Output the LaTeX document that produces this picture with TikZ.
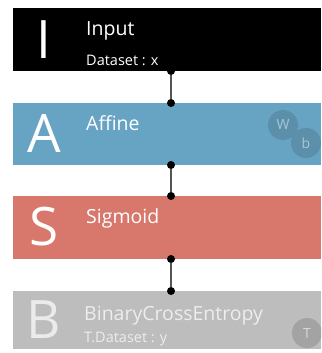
\documentclass[tikz,border=0pt]{standalone}
\usepackage{fontspec}
\setmainfont{Open Sans}
\definecolor{cblue}{HTML}{67A3C3}
\definecolor{csalmon}{HTML}{D8776B}
\definecolor{cgray}{HTML}{BDBDBD}
\definecolor{cbluec}{HTML}{5C8FAA}
\definecolor{cbluet}{HTML}{A6C7D8}
\definecolor{cgrayc}{HTML}{A3A3A3}
\definecolor{cgrayt}{HTML}{D6D6D6}
\definecolor{cline}{HTML}{555555}
\tikzset{
  layerbox/.style={rectangle, inner sep=0pt, anchor=north west, minimum width=308pt},
  bigletter/.style={font=\fontsize{53}{53}\selectfont, inner sep=0pt, anchor=center},
  titletext/.style={font=\fontsize{19.5}{20}\selectfont, inner sep=0pt, anchor=base west},
  subtext/.style={font=\fontsize{14.5}{15}\selectfont, inner sep=0pt, anchor=base west},
  param/.style={circle, inner sep=0pt, minimum size=30pt, font=\fontsize{14}{14}\selectfont},
  portdot/.style={circle, fill=black, inner sep=0pt, minimum size=8pt},
  wire/.style={draw=cline, line width=1.5pt}
}
\begin{document}
\begin{tikzpicture}[x=1pt,y=-1pt]
\useasboundingbox (0,0) rectangle (321,353);
\clip (0,0) rectangle (321,353);
\fill[white] (0,0) rectangle (321,353);
% layer boxes
\node[layerbox, fill=black, minimum height=63pt] (inp) at (13,8) {};
\node[layerbox, fill=cblue, minimum height=62pt] (aff) at (13,103) {};
\node[layerbox, fill=csalmon, minimum height=63pt] (sig) at (13,196) {};
\node[layerbox, fill=cgray, minimum height=58pt] (bce) at (13,291) {};
% parameter circles
\node[param, fill=cbluec, text=cbluet] (w) at (283,125) {W};
\node[param, fill=cbluec, text=cbluet] (b) at (306,143) {b};
\node[param, fill=cgrayc, text=cgrayt] (t) at (307,333) {T};
% big letters
\node[bigletter, text=white] (li) at (44,40) {I};
\node[bigletter, text=white] (la) at (44,134) {A};
\node[bigletter, text=white] (ls) at (44,227) {S};
\node[bigletter, text=white!92!black] (lb) at (44,320) {B};
% titles
\node[titletext, text=white] (ti) at (86,35.5) {Input};
\node[subtext, text=white] (si) at (86,66) {Dataset : x};
\node[titletext, text=white] (ta) at (86,130) {Affine};
\node[titletext, text=white] (ts) at (86,223) {Sigmoid};
\node[titletext, text=white!93!black] (tb) at (84,320) {BinaryCrossEntropy};
\node[subtext, text=white!93!black] (sb) at (84,342) {T.Dataset : y};
% ports
\node[portdot] (p1) at (171,71) {};
\node[portdot] (p2) at (171,103) {};
\node[portdot] (p3) at (171,165) {};
\node[portdot] (p4) at (171,196) {};
\node[portdot] (p5) at (171,259) {};
\node[portdot] (p6) at (171,291) {};
\draw[wire] (p1.south) -- (p2.north);
\draw[wire] (p3.south) -- (p4.north);
\draw[wire] (p5.south) -- (p6.north);
\end{tikzpicture}
\end{document}
